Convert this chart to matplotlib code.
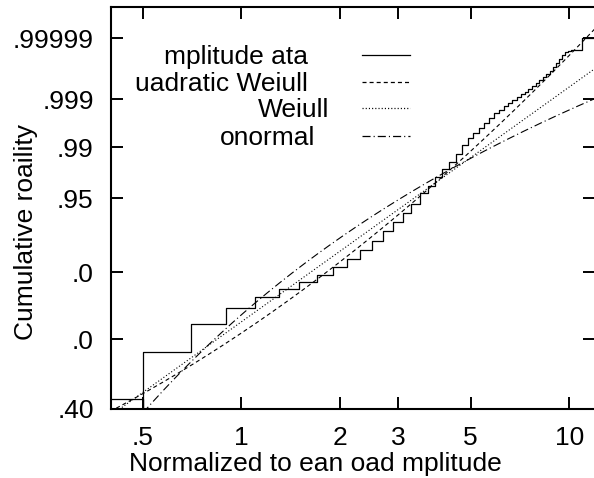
import math
import numpy as np
import matplotlib.pyplot as plt
from matplotlib.ticker import NullLocator

plt.rcParams['font.family'] = ['Liberation Sans', 'DejaVu Sans']
plt.rcParams['lines.scale_dashes'] = False

# Amplitude data: empirical cumulative probability (step levels, start of each bin)
amp = [0.3, 0.5, 0.5, 0.7, 0.9, 1.1, 1.3, 1.5, 1.7, 1.9, 2.1, 2.3, 2.5, 2.7, 2.9,
       3.1, 3.3, 3.5, 3.7, 3.9, 4.1, 4.3, 4.5, 4.7, 4.9, 5.1, 5.3, 5.5, 5.7, 5.9,
       6.1, 6.3, 6.5, 6.7, 6.9, 7.1, 7.3, 7.5, 7.7, 7.9, 8.1, 8.3, 8.5, 8.7, 8.9,
       9.1, 9.3, 9.5, 9.7, 9.9, 10.1, 10.9, 12.5]
cum_prob = [0.426, 0.30, 0.562, 0.648, 0.697, 0.730, 0.753, 0.774, 0.793, 0.814,
            0.834, 0.857, 0.877, 0.898, 0.915, 0.929, 0.943, 0.956, 0.964, 0.9726,
            0.9782, 0.9831, 0.9871, 0.9909, 0.9930, 0.99444, 0.99555, 0.99648,
            0.99723, 0.99785, 0.99816, 0.99852, 0.99875, 0.99894, 0.99911, 0.99924,
            0.99935, 0.99946, 0.99955, 0.99963, 0.99970, 0.99976, 0.99980, 0.99984,
            0.99988, 0.999913, 0.999937, 0.999955, 0.999965, 0.999968, 0.99997,
            0.99999, 0.99999]

# fitted models
weib_k, weib_scale = 0.857, 0.931
quad_a, quad_b, quad_c = -0.033, 0.800, 0.0926   # ln(-ln(1-P)) = a + b*u + c*u^2, u = ln x
logn_mu, logn_sigma = -0.43, 0.94

xticks = [0.5, 1, 2, 3, 5, 10]
xtick_labels = ['.5', '1', '2', '3', '5', '10']
yticks = [0.40, 0.60, 0.80, 0.95, 0.99, 0.999, 0.99999]
ytick_labels = ['.40', '.0', '.0', '.95', '.99', '.999', '.99999']

legend_labels = ['mplitude ata', 'uadratic Weiull', 'Weiull', 'onormal']


def fwd(p):
    p = np.clip(np.asarray(p, dtype=float), 1e-12, 1 - 1e-15)
    return np.log(-np.log(1 - p))


def inv(y):
    return 1 - np.exp(-np.exp(np.asarray(y, dtype=float)))


x = np.geomspace(0.38, 12.5, 400)
u = np.log(x)
p_weib = 1 - np.exp(-(x / weib_scale) ** weib_k)
p_quad = 1 - np.exp(-np.exp(quad_a + quad_b * u + quad_c * u ** 2))
p_logn = np.array([0.5 * (1 + math.erf((v - logn_mu) / (logn_sigma * math.sqrt(2)))) for v in u])

fig = plt.figure(figsize=(5.94, 4.78), dpi=100)
W, H = 594, 478
ax = fig.add_axes([111 / W, (H - 409) / H, 484.3 / W, 402 / H])

styles = [dict(ls='-'), dict(dashes=(2.9, 2.2)), dict(dashes=(0.8, 1.5)),
          dict(dashes=(5.8, 2.2, 0.8, 2.2))]

ax.step(amp, cum_prob, where='post', color='black', lw=0.9)
ax.plot(x, p_quad, color='black', lw=0.8, **styles[1])
ax.plot(x, p_weib, color='black', lw=0.8, **styles[2])
ax.plot(x, p_logn, color='black', lw=0.8, **styles[3])

ax.set_xscale('log')
ax.set_yscale('function', functions=(fwd, inv))
ax.set_xlim(0.4, 12)
ax.set_ylim(0.40, float(inv(2.706)))

ax.set_xticks(xticks, labels=xtick_labels)
ax.xaxis.set_minor_locator(NullLocator())
ax.set_yticks(yticks, labels=ytick_labels)
ax.yaxis.set_minor_locator(NullLocator())
ax.tick_params(direction='in', length=8.6, width=1.4, top=True, right=True,
               labelsize=19, pad=12.5)
for s in ax.spines.values():
    s.set_linewidth(1.5)

ax.set_xlabel('Normalized to ean oad mplitude', fontsize=19, va='baseline', ha='center')
ax.xaxis.set_label_coords((315.5 - 111) / 484.3, (409 - 471) / 402)
ax.set_ylabel('Cumulative roaility', fontsize=19, va='baseline', ha='center',
              rotation_mode='anchor')
ax.yaxis.set_label_coords((33.5 - 111) / 484.3, (409 - 231.5) / 402)

# gnuplot style key: text right aligned, sample line to the right
text_right = [308, 308, 329, 315]
line_rows = [55, 81.7, 108.3, 136]
for lab, tr, ly, st in zip(legend_labels, text_right, line_rows, styles):
    ax.text((tr - 111) / 484.3, (409 - ly - 9) / 402, lab, transform=ax.transAxes,
            ha='right', va='baseline', fontsize=19)
    ax.plot([(362 - 111) / 484.3, (410 - 111) / 484.3], [(409 - ly) / 402] * 2,
            transform=ax.transAxes, color='black', lw=0.9, **st)

fig.savefig('out.png', dpi=100)
